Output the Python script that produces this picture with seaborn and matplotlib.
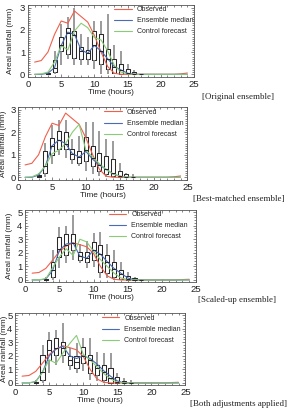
import numpy as np
import pandas as pd
import matplotlib
matplotlib.use("Agg")
import matplotlib.pyplot as plt
import seaborn as sns
from matplotlib.ticker import MultipleLocator
from matplotlib.transforms import Bbox, TransformedBbox

sns.set_style("white")
plt.rcParams["font.family"] = ["Liberation Sans", "DejaVu Sans"]

hours = list(range(1, 25))
box_hours = list(range(3, 18))

# ---------- panel 1: Original ensemble ----------
obs_1 = [0.55, 0.62, 1.0, 1.8, 2.4, 2.3, 2.85, 2.6, 2.35, 1.75, 1.0, 0.35,
         0.05, 0, 0, 0, 0, 0, 0, 0, 0, 0, 0.02, 0.06]
med_1 = [0, 0, 0.05, 0.3, 1.3, 1.9, 1.8, 1.1, 0.95, 1.3, 1.05, 0.7,
         0.35, 0.2, 0.05, 0, 0, 0, 0, 0, 0, 0, 0, 0]
ctl_1 = [0, 0.02, 0.1, 0.55, 1.3, 1.1, 1.95, 2.3, 2.1, 1.65, 1.55, 1.05,
         0.4, 0.1, 0.02, 0, 0, 0, 0, 0, 0, 0, 0, 0]
# (min, q1, median, q3, max) per hour in box_hours
boxes_1 = [(0, 0, 0.02, 0.05, 0.1), (0, 0.1, 0.3, 0.63, 1.07),
           (0.4, 1.07, 1.3, 1.67, 2.27), (0.7, 0.93, 1.85, 2.09, 2.6),
           (0.4, 0.75, 1.75, 1.94, 3.0), (0.4, 0.7, 1.05, 1.22, 1.82),
           (0.4, 0.7, 0.95, 1.1, 1.67), (0.25, 0.63, 1.3, 1.97, 2.4),
           (0.03, 0.48, 1.05, 1.82, 2.4), (0.02, 0.25, 0.7, 1.15, 2.7),
           (0, 0.06, 0.35, 0.7, 1.3), (0, 0.0, 0.2, 0.48, 1.07),
           (0, 0, 0.05, 0.25, 0.48), (0, 0, 0.02, 0.1, 0.18),
           (0, 0, 0, 0, 0.03)]

# ---------- panel 2: Best-matched ensemble ----------
obs_2 = obs_1
med_2 = [0, 0, 0.1, 0.5, 1.4, 1.65, 1.5, 1.05, 0.9, 1.15, 0.8, 0.55,
         0.35, 0.15, 0.05, 0, 0, 0, 0, 0, 0, 0, 0, 0]
ctl_2 = [0, 0.02, 0.15, 0.5, 1.05, 1.2, 1.5, 2.0, 2.35, 1.2, 0.9, 0.6,
         0.35, 0.15, 0.05, 0, 0, 0, 0, 0, 0, 0, 0, 0]
boxes_2 = [(0, 0, 0.05, 0.1, 0.2), (0, 0.2, 0.5, 1.16, 1.53),
           (0.57, 1.0, 1.4, 1.75, 2.34), (1.0, 1.24, 1.65, 2.04, 2.56),
           (0.87, 1.24, 1.5, 2.0, 2.56), (0.57, 0.8, 1.05, 1.24, 1.68),
           (0.5, 0.65, 0.9, 1.16, 1.82), (0.28, 0.72, 1.2, 1.8, 2.44),
           (0.13, 0.5, 0.85, 1.38, 2.44), (0.06, 0.28, 0.55, 1.09, 2.04),
           (0, 0.13, 0.35, 0.94, 1.68), (0, 0.06, 0.2, 0.8, 1.6),
           (0, 0, 0.05, 0.28, 0.65), (0, 0, 0.02, 0.13, 0.2),
           (0, 0, 0, 0.02, 0.15)]

# ---------- panel 3: Scaled-up ensemble ----------
obs_3 = [0.5, 0.55, 0.85, 1.46, 2.1, 2.5, 2.73, 2.6, 2.44, 1.95, 1.0, 0.3,
         0.05, 0, 0, 0, 0, 0, 0, 0, 0, 0, 0.03, 0.05]
med_3 = [0, 0, 0.07, 0.7, 2.2, 2.65, 2.73, 1.75, 1.6, 2.2, 1.9, 1.35,
         0.85, 0.5, 0.15, 0, 0, 0, 0, 0, 0, 0, 0, 0]
ctl_3 = [0, 0.02, 0.08, 0.9, 1.7, 2.3, 1.8, 3.0, 2.8, 2.1, 1.5, 1.0,
         0.5, 0.15, 0.02, 0, 0, 0, 0, 0, 0, 0, 0, 0]
boxes_3 = [(0, 0, 0.05, 0.1, 0.2), (0, 0.24, 0.7, 1.34, 2.2),
           (0.85, 1.7, 2.3, 3.17, 3.9), (1.22, 1.83, 2.6, 3.41, 4.0),
           (1.46, 2.2, 2.7, 3.41, 4.76), (1.22, 1.46, 1.75, 2.07, 2.68),
           (0.85, 1.34, 1.6, 2.07, 2.9), (0.98, 1.46, 2.2, 2.8, 3.46),
           (0.12, 0.61, 1.9, 2.56, 3.54), (0.12, 0.49, 1.3, 1.83, 2.68),
           (0, 0.24, 0.8, 1.34, 2.2), (0, 0.05, 0.45, 0.73, 1.34),
           (0, 0, 0.1, 0.29, 0.6), (0, 0, 0.02, 0.12, 0.24),
           (0, 0, 0, 0, 0.05)]

# ---------- panel 4: Both adjustments applied ----------
obs_4 = obs_3
med_4 = [0, 0, 0.1, 0.8, 2.0, 2.5, 2.7, 2.0, 1.8, 2.0, 1.8, 1.4,
         0.9, 0.5, 0.15, 0, 0, 0, 0, 0, 0, 0, 0, 0]
ctl_4 = [0, 0.02, 0.08, 0.8, 1.7, 1.45, 2.2, 2.9, 3.5, 2.1, 1.7, 1.2,
         0.7, 0.3, 0.05, 0, 0, 0, 0, 0, 0, 0, 0, 0]
boxes_4 = [(0, 0, 0.05, 0.1, 0.2), (0, 0.24, 0.8, 2.07, 2.8),
           (0.73, 1.7, 2.4, 3.17, 3.78), (1.34, 2.07, 2.6, 3.3, 3.9),
           (1.46, 2.07, 2.6, 3.05, 4.4), (0.98, 1.3, 1.7, 1.95, 2.56),
           (0.73, 1.1, 1.55, 1.95, 2.93), (0.85, 1.46, 2.0, 2.68, 3.3),
           (0.24, 0.73, 1.7, 2.07, 3.3), (0.12, 0.61, 1.1, 1.34, 2.3),
           (0, 0.24, 0.8, 1.34, 2.2), (0, 0, 0.4, 1.1, 2.2),
           (0, 0, 0.1, 0.41, 0.73), (0, 0, 0.02, 0.12, 0.37),
           (0, 0, 0, 0.02, 0.2)]

captions = ["[Original ensemble]", "[Best-matched ensemble]",
            "[Scaled-up ensemble]", "[Both adjustments applied]"]
series_labels = ["Observed", "Ensemble median", "Control forecast"]
series_colors = ["#f0604d", "#4a6bb5", "#8acb78"]

W, H = 287, 412
fig = plt.figure(figsize=(W / 100, H / 100), dpi=100)

# pixel layout: (x0, x25, top, bottom, ymax, legend anchor, caption x, caption y, ylabel x)
layout = [
    (28.0, 194.0, 5, 77, 3, (0.52, 0.985), 202, 97, 11),
    (18.3, 187.3, 107, 180, 3, (0.51, 0.975), 193, 199, 4),
    (25.3, 196.0, 210, 282, 5, (0.49, 0.985), 198, 300, 10),
    (15.3, 185.3, 313, 385, 5, (0.51, 0.975), 190, 404, 5),
]
panels = [(obs_1, med_1, ctl_1, boxes_1), (obs_2, med_2, ctl_2, boxes_2),
          (obs_3, med_3, ctl_3, boxes_3), (obs_4, med_4, ctl_4, boxes_4)]

for i, ((obs, med, ctl, boxes), lay) in enumerate(zip(panels, layout)):
    x0, x25, top, bot, ymax, leg_xy, cx, cy, ylx = lay
    ax = fig.add_axes([x0 / W, 1 - bot / H, (x25 - x0) / W, (bot - top) / H])

    rows = []
    for h, stats in zip(box_hours, boxes):
        for v in stats:
            rows.append({"hour": h, "rain": v})
    df_box = pd.DataFrame(rows)
    sns.boxplot(data=df_box, x="hour", y="rain", native_scale=True,
                whis=(0, 100), width=0.6, fill=False, showcaps=False,
                color="#2a2a2a", linewidth=0.75,
                whiskerprops={"color": "#8a8a8a", "linewidth": 1.2},
                medianprops={"color": "#2a2a2a", "linewidth": 0.75},
                showfliers=False, ax=ax)

    df_lines = pd.DataFrame({"hour": hours, "obs": obs, "med": med, "ctl": ctl})
    for col, lab, colr in zip(["obs", "med", "ctl"], series_labels, series_colors):
        sns.lineplot(data=df_lines, x="hour", y=col, color=colr, linewidth=0.8,
                     label=lab, ax=ax)

    pad = 0.12 if ymax == 3 else 0.15
    ax.set_xlim(0, 25)
    ax.set_ylim(-pad, ymax + pad)
    ax.xaxis.set_major_locator(MultipleLocator(5))
    ax.xaxis.set_minor_locator(MultipleLocator(1))
    ax.yaxis.set_major_locator(MultipleLocator(1))
    ax.yaxis.set_minor_locator(MultipleLocator(0.1 if ymax == 3 else 0.2))
    ax.tick_params(which="both", direction="in", top=True, right=True,
                   bottom=True, left=True, colors="#555555",
                   labelcolor="#222222", labelsize=6.8, width=0.5, pad=2)
    ax.tick_params(which="major", length=2.5)
    ax.tick_params(which="minor", length=1.2)
    for s in ax.spines.values():
        s.set_color("#555555")
        s.set_linewidth(0.6)
    ax.set_xlabel("Time (hours)", fontsize=5.9, labelpad=0.5, color="#222222")
    ax.set_ylabel("")
    yl = fig.text(ylx / W, 1 - ((top + bot) / 2) / H, "Areal rainfall (mm)",
                  rotation=90, fontsize=5.9, ha="center", va="center",
                  color="#222222")
    if i == 3:
        clip = TransformedBbox(Bbox([[0, 0], [1, 1 - 306 / H]]), fig.transFigure)
        yl.set_clip_box(clip)
        yl.set_clip_on(True)

    ax.legend(loc="upper left", bbox_to_anchor=leg_xy, frameon=False,
              fontsize=5.0, handlelength=2.5, handletextpad=0.7,
              labelspacing=0.6, borderpad=0, borderaxespad=0)

    fig.text(cx / W, 1 - cy / H, captions[i], family="Liberation Serif",
             fontsize=6.4, ha="left", va="center", color="#222222")

fig.savefig("out.png", dpi=100)
